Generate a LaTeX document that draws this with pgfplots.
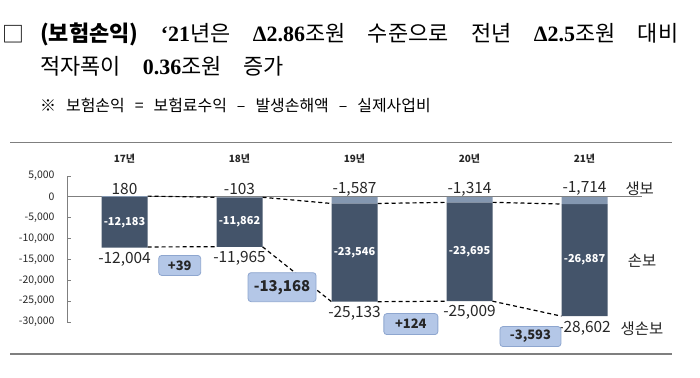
\documentclass[border=0pt]{standalone}
\usepackage{pgfplots}
\pgfplotsset{compat=1.18}
\usepackage{fontspec}
\setmainfont{Noto Sans CJK KR}
\newfontfamily\sr{Liberation Serif}
\definecolor{dark}{HTML}{44546A}
\definecolor{light}{HTML}{8497B0}
\definecolor{boxfill}{HTML}{B4C7E7}
\definecolor{boxdraw}{HTML}{8EA6CF}
\definecolor{txt}{HTML}{262626}
\definecolor{rule}{HTML}{7F7F7F}
\tikzset{
  yr/.style={font=\fontsize{10}{12}\selectfont\bfseries, text=txt},
  vl/.style={font=\fontsize{15.5}{18}\selectfont, text=txt},
  il/.style={font=\fontsize{11}{13}\selectfont\bfseries, text=white},
  bx/.style={rounded corners=3bp, fill=boxfill, draw=boxdraw, line width=0.8bp, text=txt, inner sep=0pt, font=\fontsize{13}{15}\selectfont\bfseries},
  dl/.style={black, line width=1.2bp, dash pattern=on 4bp off 3bp},
}
\pgfplotsset{
  common/.style={
    at={(67bp,55bp)}, anchor=south west,
    scale only axis, width=575bp, height=146bp,
    xmin=-0.5, xmax=4.5, ymin=-30000, ymax=5000, clip=false,
  }
}
\newcommand{\wsp}{\hspace{10bp}}
\begin{document}
\begin{tikzpicture}[x=1bp,y=1bp]
\useasboundingbox (0,0) rectangle (700,377);
% title
\node[anchor=west, inner sep=0, font=\fontsize{22}{26}\selectfont] at (2,343) {□};
\node[anchor=west, inner sep=0, font=\fontsize{22}{26}\selectfont] at (40,343)
  {\makebox[638bp][s]{\textbf{(보험손익)} {\sr\bfseries ‘21}년은 {\sr\bfseries Δ2.86}조원 수준으로 전년 {\sr\bfseries Δ2.5}조원 대비}};
\node[anchor=west, inner sep=0, font=\fontsize{22}{26}\selectfont] at (40,311)
  {적자폭이\hspace{22bp}{\sr\bfseries 0.36}조원\hspace{22bp}증가};
\node[anchor=west, inner sep=0, font=\fontsize{16}{19}\selectfont] at (40,272)
  {※\wsp 보험손익\wsp =\wsp 보험료수익\wsp –\wsp 발생손해액\wsp –\wsp 실제사업비};
% rules
\draw[rule, line width=1.5bp] (10,234.5) -- (672,234.5);
\draw[rule, line width=1.5bp] (10,23) -- (672,23);

% axis 1: y axis, zero line, dashed connectors
\begin{axis}[common,
  axis x line=none, axis y line=left,
  axis line style={-, draw=rule, line width=1bp},
  ytick={-30000,-25000,...,5000},
  scaled y ticks=false,
  yticklabel style={font=\fontsize{10.5}{12}\selectfont, text=txt, xshift=-9bp,
    /pgf/number format/1000 sep={,}, /pgf/number format/assume math mode=true},
  tick align=inside, major tick length=4bp, tick style={rule, line width=0.8bp},
]
\addplot[rule, line width=1.2bp] coordinates {(-0.5,0) (4.5,0)};
\addplot[dl] coordinates {(0.2,180) (0.8,-103)};
\addplot[dl] coordinates {(0.2,-12004) (0.8,-11965)};
\addplot[dl] coordinates {(1.2,-103) (1.8,-1587)};
\addplot[dl] coordinates {(1.2,-11965) (1.8,-25133)};
\addplot[dl] coordinates {(2.2,-1587) (2.8,-1314)};
\addplot[dl] coordinates {(2.2,-25133) (2.8,-25009)};
\addplot[dl] coordinates {(3.2,-1314) (3.8,-1714)};
\addplot[dl] coordinates {(3.2,-25009) (3.8,-28602)};
\end{axis}

% axis 2: stacked bars
\begin{axis}[common, hide axis, ybar stacked, bar width=0.4]
\addplot[fill=light, draw=none] coordinates {(0,180) (1,-103) (2,-1587) (3,-1314) (4,-1714)};
\addplot[fill=dark, draw=none] coordinates {(0,-12183) (1,-11862) (2,-23546) (3,-23695) (4,-26887)};
\end{axis}

% axis 3: labels and boxes
\begin{axis}[common, hide axis]
\node[yr] at (axis cs:0,9090) {17년};
\node[yr] at (axis cs:1,9090) {18년};
\node[yr] at (axis cs:2,9090) {19년};
\node[yr] at (axis cs:3,9090) {20년};
\node[yr] at (axis cs:4,9090) {21년};
\node[vl] at (axis cs:0,1900) {180};
\node[vl] at (axis cs:1,1900) {-103};
\node[vl] at (axis cs:2,1900) {-1,587};
\node[vl] at (axis cs:3,1900) {-1,314};
\node[vl] at (axis cs:4,1900) {-1,714};
\node[vl] at (axis cs:0,-14874) {-12,004};
\node[vl] at (axis cs:1,-14835) {-11,965};
\node[vl] at (axis cs:2,-27900) {-25,133};
\node[vl] at (axis cs:3,-27700) {-25,009};
\node[vl] at (axis cs:4,-31500) {-28,602};
\node[vl] at (axis cs:4.48,1900) {생보};
\node[vl] at (axis cs:4.5,-15300) {손보};
\node[vl] at (axis cs:4.5,-31600) {생손보};
\node[il] at (axis cs:0,-6100) {-12,183};
\node[il] at (axis cs:1,-6034) {-11,862};
\node[il] at (axis cs:2,-13360) {-23,546};
\node[il] at (axis cs:3,-13160) {-23,695};
\node[il] at (axis cs:4,-15158) {-26,887};
\node[bx, minimum width=42bp, minimum height=20bp] at (axis cs:0.48,-16440) {+39};
\node[bx, minimum width=68bp, minimum height=29bp, font=\fontsize{15}{17}\selectfont\bfseries] at (axis cs:1.37,-21650) {-13,168};
\node[bx, minimum width=54bp, minimum height=21bp] at (axis cs:2.49,-30500) {+124};
\node[bx, minimum width=61bp, minimum height=20bp] at (axis cs:3.53,-33490) {-3,593};
\end{axis}
\end{tikzpicture}
\end{document}
